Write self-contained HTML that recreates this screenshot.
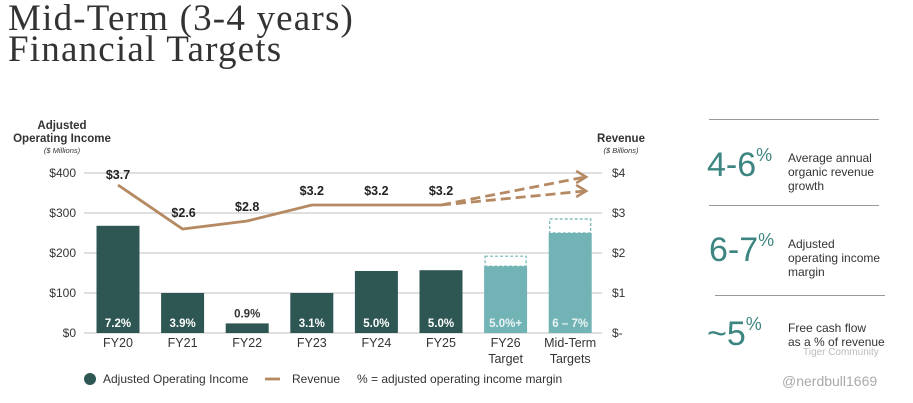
<!DOCTYPE html>
<html><head><meta charset="utf-8"><style>
body{margin:0;width:913px;height:403px;background:#fff;overflow:hidden;font-family:"Liberation Sans",sans-serif}
.t{position:absolute;left:8px;top:3px;font-family:"Liberation Serif",serif;font-size:37px;line-height:31px;letter-spacing:1.2px;color:#333}
.k{position:absolute;color:#3d8580;font-size:34px}
.k sup{font-size:18px;vertical-align:15px}
.d{position:absolute;font-size:12px;line-height:14px;color:#333}
.hr{position:absolute;height:1px;background:#999}
</style></head><body>
<div class="t">Mid-Term (3-4 years)<br>Financial Targets</div>
<svg id="c" width="913" height="403" style="position:absolute;left:0;top:0"></svg>
<div class="hr" style="left:709px;top:119px;width:170px"></div>
<div class="k" style="left:707px;top:145px">4-6<sup>%</sup></div>
<div class="d" style="left:788px;top:151px">Average annual<br>organic revenue<br>growth</div>
<div class="hr" style="left:709px;top:205px;width:170px"></div>
<div class="k" style="left:709px;top:230px">6-7<sup>%</sup></div>
<div class="d" style="left:788px;top:237px">Adjusted<br>operating income<br>margin</div>
<div class="hr" style="left:715px;top:295px;width:170px"></div>
<div class="k" style="left:707px;top:314px">~5<sup>%</sup></div>
<div class="d" style="left:788px;top:321px">Free cash flow<br>as a % of revenue</div>
<div class="d" style="left:803px;top:346px;color:#bbb;font-size:10px">Tiger Community</div>
<div class="d" style="left:782px;top:374px;color:#aaa;font-size:14px">@nerdbull1669</div>
<script>
const cats=["FY20","FY21","FY22","FY23","FY24","FY25","FY26|Target","Mid-Term|Targets"];
const income=[268,100,24,100,155,157,167,250];
const incomeTop=[null,null,null,null,null,null,192,285];
const margins=["7.2%","3.9%","0.9%","3.1%","5.0%","5.0%","5.0%+","6 – 7%"];
const revenue=[3.7,2.6,2.8,3.2,3.2,3.2];
const revLabels=["$3.7","$2.6","$2.8","$3.2","$3.2","$3.2"];
const revTargets=[3.9,3.55];
const leftTicks=["$0","$100","$200","$300","$400"];
const rightTicks=["$-","$1","$2","$3","$4"];
const svg=document.getElementById('c');const NS='http://www.w3.org/2000/svg';
function mk(t,a,txt){const e=document.createElementNS(NS,t);for(const k in a)e.setAttribute(k,a[k]);if(txt!=null)e.textContent=txt;svg.appendChild(e);return e;}
const yL=v=>333-v*0.4, yR=v=>333-v*40, xC=i=>118+i*64.6;
for(let i=0;i<5;i++){const y=yL(i*100);
const g=mk('line',{x1:84,x2:602,y1:y,y2:y,stroke:'#ccc','stroke-width':1.2});
const a=mk('text',{x:76,y:y+4,'text-anchor':'end','font-size':12,fill:'#333'},leftTicks[i]);
const b=mk('text',{x:612,y:y+4,'font-size':12,fill:'#333'},rightTicks[i]);}
[["Adjusted",62,129,11.5,'bold'],["Operating Income",62,142,11.5,'bold'],["($ Millions)",62,153,7.5,'italic'],["Revenue",621,142,11.5,'bold'],["($ Billions)",621,153,7.5,'italic']].forEach(t=>{const e=mk('text',{x:t[1],y:t[2],'text-anchor':'middle','font-size':t[3],fill:'#333','font-weight':t[4]=='bold'?'bold':'normal','font-style':t[4]=='italic'?'italic':'normal'},t[0]);});
cats.forEach((c,i)=>{const x=xC(i),w=43,light=i>=6,col=light?'#72b3b5':'#2e5753';
if(incomeTop[i]!=null){const d=mk('rect',{x:x-w/2+1,y:yL(incomeTop[i]),width:w-2,height:yL(income[i])-yL(incomeTop[i]),fill:'#fff',stroke:'#72b3b5','stroke-dasharray':'3,2','stroke-width':1.2});}
const r=mk('rect',{x:x-w/2,y:yL(income[i]),width:w,height:333-yL(income[i]),fill:col});
const inside=income[i]>50;const m=mk('text',{x:x,y:inside?327:yL(income[i])-6,'text-anchor':'middle','font-size':11.5,'font-weight':'bold',fill:inside?'#fff':'#333',opacity:light?0.85:1},margins[i]);
c.split('|').forEach((s,j)=>{const e=mk('text',{x:x,y:347+j*16,'text-anchor':'middle','font-size':12.5,fill:'#333'},s);});});
const pts=revenue.map((v,i)=>xC(i)+','+yR(v)).join(' ');
const pl=mk('polyline',{points:pts,fill:'none',stroke:'#b58a63','stroke-width':2.8});
revLabels.forEach((l,i)=>{const e=mk('text',{x:xC(i)+(i==1?1:0),y:yR(revenue[i])-(i==0?6:i==1?12:10),'text-anchor':'middle','font-size':12.5,'font-weight':'bold',fill:'#222'},l);});
const x0=xC(5),y0=yR(revenue[5]),x1=xC(7)+15;
revTargets.forEach(v=>{const y1=yR(v);
const l=mk('line',{x1:x0,y1:y0,x2:x1,y2:y1,stroke:'#b58a63','stroke-width':2.8,'stroke-dasharray':'10,5'});
const a=mk('polyline',{points:(x1-9)+','+(y1-6)+' '+(x1+1)+','+y1+' '+(x1-9)+','+(y1+6),fill:'none',stroke:'#b58a63','stroke-width':2.5});});
const lc=mk('circle',{cx:90,cy:379,r:6,fill:'#2e5753'});
const l1=mk('text',{x:103,y:383,'font-size':12,fill:'#333'},'Adjusted Operating Income');
const ll=mk('line',{x1:265,x2:280,y1:379,y2:379,stroke:'#b58a63','stroke-width':2.8});
const l2=mk('text',{x:292,y:383,'font-size':12,fill:'#333'},'Revenue');
const l3=mk('text',{x:357,y:383,'font-size':12,fill:'#333'},'% = adjusted operating income margin');
</script>
</body></html>
